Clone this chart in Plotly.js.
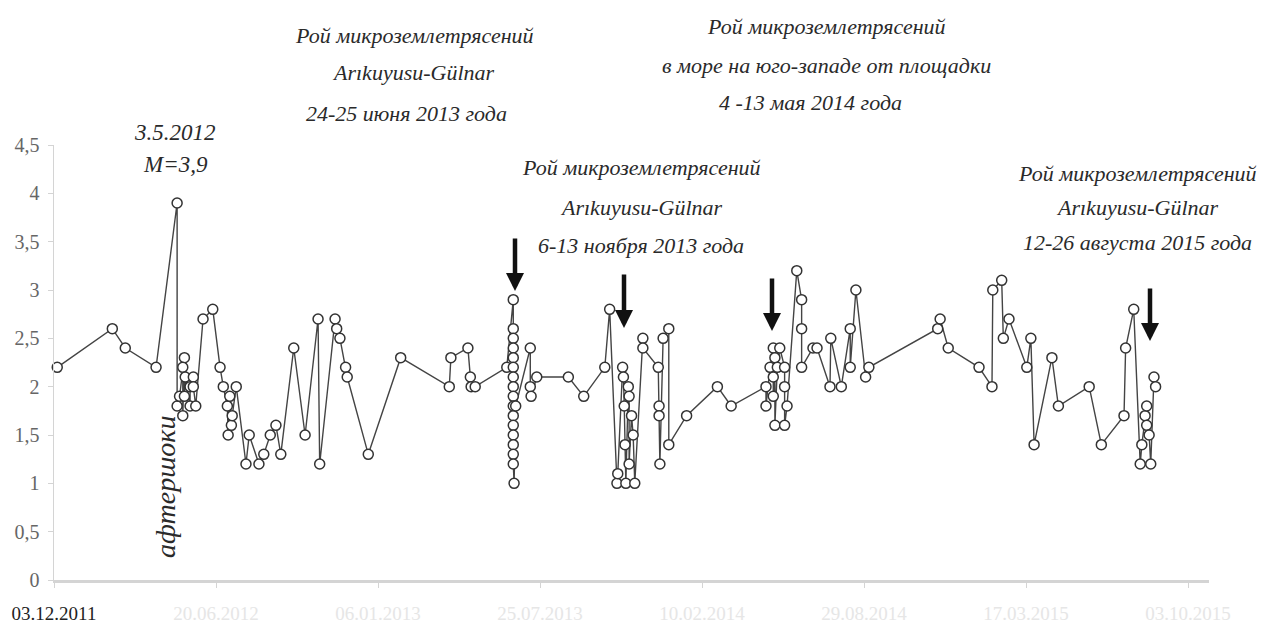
<!DOCTYPE html>
<html>
<head>
<meta charset="utf-8">
<script src="https://cdn.plot.ly/plotly-3.0.1.min.js"></script>
<style>
  html, body { margin: 0; padding: 0; background: #fff; }
  #chart { width: 1267px; height: 627px; }
</style>
</head>
<body>
<div id="chart"></div>
<script>
// Days elapsed since 03.12.2011 for each event
const daysSinceStart = [
  4, 72, 88, 126, 152,
  152, 155, 161, 159, 159, 161, 162, 168, 168, 172, 172, 175,
  184, 196, 205, 209, 214, 215, 217, 219, 220, 225, 237, 241, 253, 259, 267, 274, 280,
  296, 310, 326, 328, 347, 349, 353, 360, 362, 388, 428,
  488, 490, 511, 514, 515, 520, 559,
  567, 567, 567, 567, 567, 567, 567, 567, 567, 567, 567, 567, 567, 567, 567, 567,
  568, 570, 588, 588, 589, 596, 635, 654, 680, 686,
  695, 696, 702, 703, 704, 705, 706, 709, 710, 710, 713, 715, 717,
  727, 727, 746, 747, 747, 748, 752, 759, 759, 781, 819, 836,
  879, 879, 884, 888, 888, 888, 890, 890, 893, 896, 902, 902, 902, 905,
  917, 923, 923, 923, 937, 942, 958, 959, 972, 983, 983, 990, 1002, 1006,
  1091, 1094, 1104, 1142, 1158, 1159, 1170, 1172, 1179, 1201, 1206, 1210,
  1232, 1240, 1278, 1293, 1321, 1323, 1333,
  1341, 1343, 1347, 1349, 1349, 1352, 1354, 1358, 1360
];
// Magnitude of each event
const magnitude = [
  2.2, 2.6, 2.4, 2.2, 3.9,
  1.8, 1.9, 2.3, 1.7, 2.2, 1.9, 2.1, 1.8, 2.0, 2.1, 2.0, 1.8,
  2.7, 2.8, 2.2, 2.0, 1.8, 1.5, 1.9, 1.6, 1.7, 2.0, 1.2, 1.5, 1.2, 1.3, 1.5, 1.6, 1.3,
  2.4, 1.5, 2.7, 1.2, 2.7, 2.6, 2.5, 2.2, 2.1, 1.3, 2.3,
  2.0, 2.3, 2.4, 2.1, 2.0, 2.0, 2.2,
  2.9, 2.6, 2.5, 2.4, 2.3, 2.2, 2.1, 2.0, 1.9, 1.8, 1.7, 1.6, 1.5, 1.4, 1.3, 1.2,
  1.0, 1.8, 2.4, 2.0, 1.9, 2.1, 2.1, 1.9, 2.2, 2.8,
  1.0, 1.1, 2.2, 2.1, 1.8, 1.4, 1.0, 2.0, 1.9, 1.2, 1.7, 1.5, 1.0,
  2.5, 2.4, 2.2, 1.8, 1.7, 1.2, 2.5, 2.6, 1.4, 1.7, 2.0, 1.8,
  2.0, 1.8, 2.2, 2.4, 2.1, 1.9, 2.3, 1.6, 2.2, 2.4, 2.2, 2.0, 1.6, 1.8,
  3.2, 2.9, 2.6, 2.2, 2.4, 2.4, 2.0, 2.5, 2.0, 2.6, 2.2, 3.0, 2.1, 2.2,
  2.6, 2.7, 2.4, 2.2, 2.0, 3.0, 3.1, 2.5, 2.7, 2.2, 2.5, 1.4,
  2.3, 1.8, 2.0, 1.4, 1.7, 2.4, 2.8,
  1.2, 1.4, 1.7, 1.8, 1.6, 1.5, 1.2, 2.1, 2.0
];
// X tick positions (days) and labels
const xTickDays = [0, 200, 400, 600, 800, 1000, 1200, 1400];
const xTickLabels = ['03.12.2011', '20.06.2012', '06.01.2013', '25.07.2013',
                     '10.02.2014', '29.08.2014', '17.03.2015', '03.10.2015'];
const yTickValues = [0, 0.5, 1, 1.5, 2, 2.5, 3, 3.5, 4, 4.5];
const yTickLabels = ['0', '0,5', '1', '1,5', '2', '2,5', '3', '3,5', '4', '4,5'];

// Annotation texts
const labelMainShock = ['3.5.2012', 'M=3,9'];
const labelJune2013 = ['Рой микроземлетрясений', 'Arıkuyusu-Gülnar', '24-25 июня 2013 года'];
const labelMay2014 = ['Рой микроземлетрясений', 'в море на юго-западе от площадки', '4 -13 мая 2014 года'];
const labelNov2013 = ['Рой микроземлетрясений', 'Arıkuyusu-Gülnar', '6-13 ноября 2013 года'];
const labelAug2015 = ['Рой микроземлетрясений', 'Arıkuyusu-Gülnar', '12-26 августа 2015 года'];
const labelAftershocks = 'афтершоки';

// ---- layout geometry (pixels) ----
const W = 1267, H = 627;
const M = { l: 54, r: 58, t: 145, b: 47 };
const PW = W - M.l - M.r, PH = H - M.t - M.b;
const px = x => (x - M.l) / PW;
const py = y => (H - M.b - y) / PH;

const FONT = 'Liberation Serif, Times New Roman, serif';
const txtFont = { family: FONT, size: 22, color: '#2a2a2a', style: 'italic' };

const annotations = [];
function block(lines, cx, ys, centers, font) {
  lines.forEach((t, i) => {
    annotations.push({
      xref: 'paper', yref: 'paper',
      x: px(centers ? centers[i] : cx), y: py(ys[i]),
      xanchor: 'center', yanchor: 'middle',
      text: t, showarrow: false, font: font || txtFont
    });
  });
}
block(labelMainShock, 175, [133, 164], null, { family: FONT, size: 23, color: '#2a2a2a', style: 'italic' });
block(labelJune2013, 412, [35, 73, 113], [414, 413, 406]);
block(labelMay2014, 826, [27, 65, 102], [826, 826, 810]);
block(labelNov2013, 641, [168, 207, 245]);
block(labelAug2015, 1137, [173, 208, 242]);
annotations.push({
  xref: 'paper', yref: 'paper', x: px(165), y: py(487),
  xanchor: 'center', yanchor: 'middle', textangle: -90,
  text: labelAftershocks, showarrow: false,
  font: { family: FONT, size: 28, color: '#2a2a2a', style: 'italic' }
});
function arrow(x, yTail, yTip) {
  annotations.push({
    xref: 'paper', yref: 'paper', x: px(x), y: py(yTip),
    ax: 0, ay: yTail - yTip, text: '', showarrow: true,
    arrowhead: 2, arrowsize: 0.8, arrowwidth: 4.5, arrowcolor: '#111', standoff: 0
  });
}
arrow(515, 237, 291);
arrow(624, 273, 328);
arrow(772, 277, 331);
arrow(1150, 287, 341);

const ticktext = xTickLabels.map((t, i) =>
  i === 0 ? t : '<span style="color:#e6e6e6">' + t + '</span>');

const trace = {
  x: daysSinceStart, y: magnitude,
  type: 'scatter', mode: 'lines+markers',
  line: { color: '#444444', width: 1.4 },
  marker: { symbol: 'circle', size: 10, color: '#ffffff', line: { color: '#333333', width: 1.5 } },
  cliponaxis: false, hoverinfo: 'x+y'
};

const layout = {
  width: W, height: H,
  margin: M,
  paper_bgcolor: '#fff', plot_bgcolor: '#fff',
  showlegend: false,
  xaxis: {
    range: [0, PW / 0.81], tickmode: 'array', tickvals: xTickDays, ticktext: ticktext,
    showgrid: false, zeroline: false, showline: true, linecolor: '#d4d4d4', linewidth: 2.5,
    ticks: 'outside', ticklen: 5, tickcolor: '#d4d4d4', ticklabelstandoff: 10,
    tickfont: { family: FONT, size: 19, color: '#222' }
  },
  yaxis: {
    range: [0, 4.5], tickmode: 'array', tickvals: yTickValues, ticktext: yTickLabels,
    showgrid: false, zeroline: false, showline: true, linecolor: '#d4d4d4', linewidth: 1.5,
    ticks: 'outside', ticklen: 5, tickcolor: '#d4d4d4', ticklabelstandoff: 4,
    tickfont: { family: FONT, size: 20, color: '#666' }
  },
  annotations: annotations
};

Plotly.newPlot('chart', [trace], layout, { displayModeBar: false, staticPlot: true });
</script>
</body>
</html>
